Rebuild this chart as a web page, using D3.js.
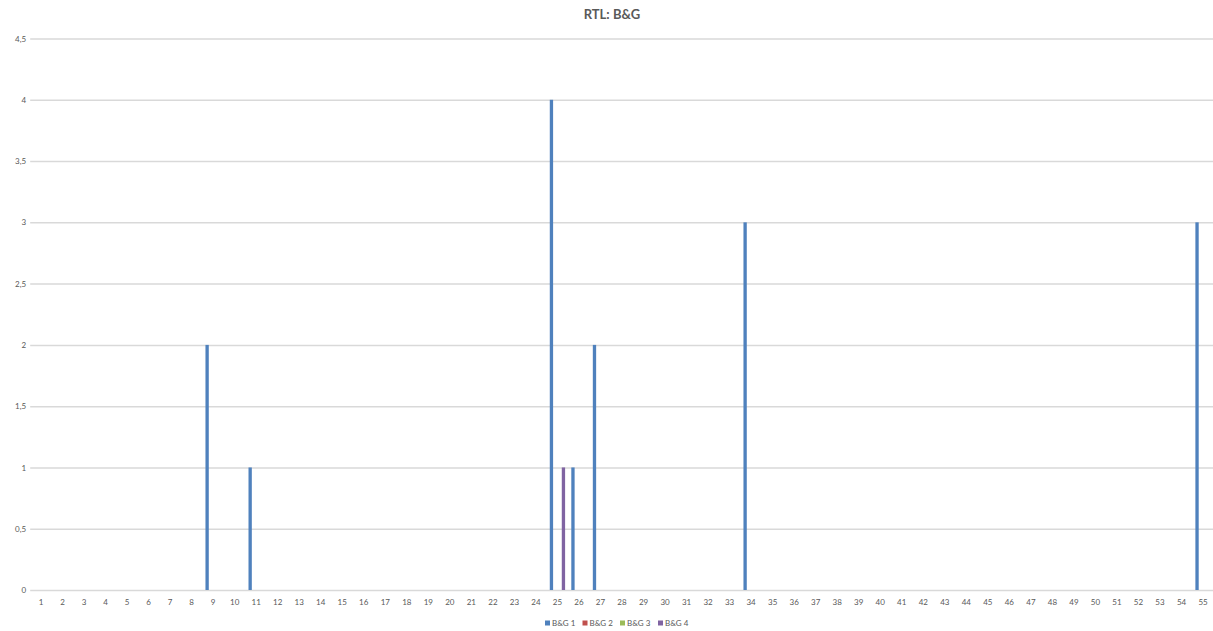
<!DOCTYPE html>
<html>
<head>
<meta charset="utf-8">
<script src="https://cdn.jsdelivr.net/npm/d3@7"></script>
<style>
  html, body { margin: 0; padding: 0; background: #fff; }
  svg { display: block; }
</style>
</head>
<body>
<svg id="chart" width="1213" height="631"></svg>
<script>
// Categories 1..55 along the x axis
const categories = ["1","2","3","4","5","6","7","8","9","10","11","12","13","14","15","16","17","18","19","20",
  "21","22","23","24","25","26","27","28","29","30","31","32","33","34","35","36","37","38","39","40",
  "41","42","43","44","45","46","47","48","49","50","51","52","53","54","55"];

const seriesNames = ["B&G 1", "B&G 2", "B&G 3", "B&G 4"];
const seriesColors = ["#4F81BD", "#C0504D", "#9BBB59", "#8064A2"];

// Values per category (index 0 = category 1)
const bg1 = [0,0,0,0,0,0,0,0,2,0,1,0,0,0,0,0,0,0,0,0,0,0,0,0,4,1,2,0,0,0,0,0,0,3,0,0,0,0,0,0,0,0,0,0,0,0,0,0,0,0,0,0,0,0,3];
const bg2 = [0,0,0,0,0,0,0,0,0,0,0,0,0,0,0,0,0,0,0,0,0,0,0,0,0,0,0,0,0,0,0,0,0,0,0,0,0,0,0,0,0,0,0,0,0,0,0,0,0,0,0,0,0,0,0];
const bg3 = [0,0,0,0,0,0,0,0,0,0,0,0,0,0,0,0,0,0,0,0,0,0,0,0,0,0,0,0,0,0,0,0,0,0,0,0,0,0,0,0,0,0,0,0,0,0,0,0,0,0,0,0,0,0,0];
const bg4 = [0,0,0,0,0,0,0,0,0,0,0,0,0,0,0,0,0,0,0,0,0,0,0,0,1,0,0,0,0,0,0,0,0,0,0,0,0,0,0,0,0,0,0,0,0,0,0,0,0,0,0,0,0,0,0];

const yTicks = [0, 0.5, 1, 1.5, 2, 2.5, 3, 3.5, 4, 4.5];
const chartTitle = "RTL: B&G";

const seriesValues = [bg1, bg2, bg3, bg4];

const svg = d3.select("#chart");
const font = "Lato, 'Open Sans', sans-serif";
const textColor = "#595959";

const plot = { left: 30.2, right: 1213.8, top: 38.5, bottom: 590 };

const pad = 0.2565;
const x0 = d3.scaleBand()
  .domain(categories)
  .range([plot.left, plot.right])
  .paddingInner(pad)
  .paddingOuter(pad / 2);

const x1 = d3.scaleBand()
  .domain(seriesNames)
  .range([0, x0.bandwidth()])
  .paddingInner(0.17)
  .paddingOuter(0.085);

const y = d3.scaleLinear()
  .domain([0, 4.5])
  .range([plot.bottom, plot.top]);

// Horizontal gridlines and y tick labels
const yAxis = d3.axisLeft(y)
  .tickValues(yTicks)
  .tickSize(-(plot.right - plot.left))
  .tickPadding(4)
  .tickFormat(d => String(d).replace(".", ","));

const gy = svg.append("g")
  .attr("transform", `translate(${plot.left},0)`)
  .call(yAxis);
gy.select(".domain").remove();
gy.selectAll(".tick line")
  .attr("stroke", "#d9d9d9")
  .attr("stroke-width", 1.5);
gy.selectAll(".tick text")
  .attr("fill", textColor)
  .style("font-family", font)
  .style("font-size", "8px");

// Category labels
const xAxis = d3.axisBottom(x0).tickSize(0).tickPadding(9);
const gx = svg.append("g")
  .attr("transform", `translate(0,${plot.bottom})`)
  .call(xAxis);
gx.select(".domain").remove();
gx.selectAll(".tick text")
  .attr("fill", textColor)
  .style("font-family", font)
  .style("font-size", "8px");

// Grouped bars
const rows = categories.map((c, i) => ({
  cat: c,
  vals: seriesNames.map((s, k) => ({ series: s, k, value: seriesValues[k][i] }))
}));

const groups = svg.append("g").selectAll("g")
  .data(rows)
  .join("g")
  .attr("transform", d => `translate(${x0(d.cat)},0)`);

groups.selectAll("rect")
  .data(d => d.vals.filter(v => v.value > 0))
  .join("rect")
  .attr("x", d => x1(d.series))
  .attr("width", x1.bandwidth())
  .attr("y", d => y(d.value))
  .attr("height", d => y(0) - y(d.value))
  .attr("fill", d => seriesColors[d.k]);

// Title
svg.append("text")
  .attr("x", 612)
  .attr("y", 19)
  .attr("text-anchor", "middle")
  .attr("fill", textColor)
  .style("font-family", font)
  .style("font-weight", "bold")
  .style("font-size", "13px")
  .text(chartTitle);

// Legend
const legendX = [545, 582.5, 620, 658];
const legend = svg.append("g").selectAll("g")
  .data(seriesNames)
  .join("g")
  .attr("transform", (d, i) => `translate(${legendX[i]},620.5)`);
legend.append("rect")
  .attr("width", 5)
  .attr("height", 5)
  .attr("fill", (d, i) => seriesColors[i]);
legend.append("text")
  .attr("x", 7)
  .attr("y", 5)
  .attr("fill", textColor)
  .style("font-family", font)
  .style("font-size", "8px")
  .text(d => d);
</script>
</body>
</html>
